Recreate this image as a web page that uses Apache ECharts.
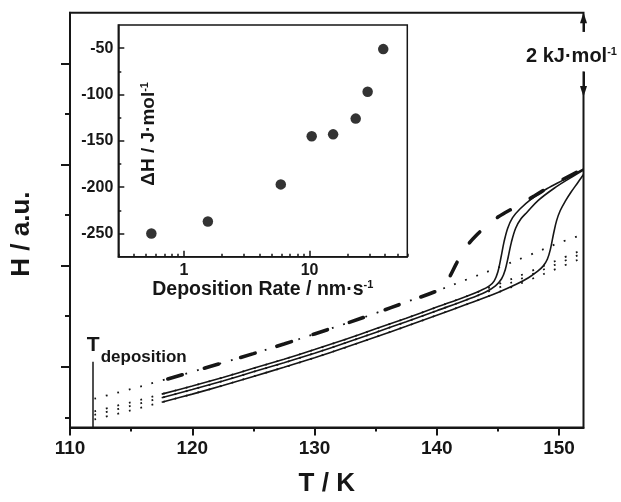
<!DOCTYPE html>
<html><head><meta charset="utf-8">
<script src="https://cdn.jsdelivr.net/npm/echarts@6/dist/echarts.min.js"></script>
<style>html,body{margin:0;padding:0;background:#fff}#c{width:621px;height:502px}</style>
</head><body><div id="c"></div>
<script>
// ---------- data ----------
const glassT = [112, 115, 117.5, 120, 122.5, 125, 127.5, 130, 132.5, 135, 137.5, 140, 142.5, 145, 147.5, 150, 152];
const glassD = [0.37, 0.56, 0.73, 0.90, 1.08, 1.26, 1.45, 1.65, 1.85, 2.06, 2.28, 2.50, 2.73, 2.96, 3.20, 3.45, 3.62];
const glassA = [0.12, 0.30, 0.46, 0.62, 0.79, 0.97, 1.15, 1.34, 1.54, 1.75, 1.96, 2.18, 2.40, 2.63, 2.87, 3.12, 3.32];
const glassB = [0.05, 0.23, 0.39, 0.55, 0.72, 0.90, 1.08, 1.27, 1.47, 1.68, 1.89, 2.11, 2.33, 2.56, 2.80, 3.05, 3.25];
const glassC = [-0.04, 0.14, 0.30, 0.46, 0.63, 0.81, 0.99, 1.18, 1.38, 1.59, 1.80, 2.02, 2.24, 2.47, 2.71, 2.96, 3.16];

const curveDT = [118, 120, 122.5, 125, 127.5, 130, 132.5, 135, 137.5, 140, 140.6, 141.1, 141.6, 142.1, 142.6, 143.2, 144, 145, 146.5, 148, 149.5, 151, 152];
const curveDV = [0.76, 0.90, 1.08, 1.26, 1.45, 1.65, 1.85, 2.06, 2.28, 2.50, 2.60, 2.80, 3.04, 3.26, 3.43, 3.59, 3.77, 3.96, 4.17, 4.38, 4.60, 4.79, 4.91];

const curveAT = [117.5, 120, 122.5, 125, 127.5, 130, 132.5, 135, 137.5, 140, 142.5, 143.6, 144.3, 144.7, 145.0, 145.25, 145.5, 145.8, 146.2, 146.8, 147.7, 149, 150.4, 152];
const curveAV = [0.46, 0.62, 0.79, 0.97, 1.15, 1.34, 1.54, 1.75, 1.96, 2.18, 2.40, 2.51, 2.60, 2.70, 2.88, 3.16, 3.47, 3.74, 3.95, 4.12, 4.31, 4.52, 4.70, 4.91];

const curveBT = [117.5, 120, 122.5, 125, 127.5, 130, 132.5, 135, 137.5, 140, 142.5, 144, 144.8, 145.3, 145.6, 145.85, 146.1, 146.45, 146.9, 147.4, 148.3, 149.6, 150.9, 152];
const curveBV = [0.39, 0.55, 0.72, 0.90, 1.08, 1.27, 1.47, 1.68, 1.89, 2.11, 2.33, 2.48, 2.60, 2.74, 2.92, 3.18, 3.46, 3.74, 3.93, 4.06, 4.29, 4.53, 4.73, 4.89];

const curveCT = [117.5, 120, 122.5, 125, 127.5, 130, 132.5, 135, 137.5, 140, 142.5, 145, 146.5, 147.5, 148.2, 148.7, 149.05, 149.3, 149.55, 149.8, 150.1, 150.5, 151, 151.5, 152];
const curveCV = [0.30, 0.46, 0.63, 0.81, 0.99, 1.18, 1.38, 1.59, 1.80, 2.02, 2.24, 2.47, 2.63, 2.76, 2.88, 2.99, 3.13, 3.33, 3.63, 3.89, 4.09, 4.27, 4.46, 4.63, 4.80];

// inset: deposition rate (nm/s) vs ΔH (J/mol)
const rates  = [0.55, 1.55, 5.9, 10.4, 15.4, 23.3, 29, 38.6];
const deltaH = [-250, -237, -197, -145, -143, -126, -97, -51];

// ticks
const xTicksMain = [110, 120, 130, 140, 150];
const xMinorMain = [115, 125, 135, 145];
const yTicksMain = [1, 3, 5, 7];
const yMinorMain = [0, 2, 4, 6];
const insetXTicks = [1, 10];
const insetXMinor = [0.3, 0.4, 0.5, 0.6, 0.7, 0.8, 0.9, 2, 3, 4, 5, 6, 7, 8, 9, 20, 30, 40, 50, 60];
const insetYTicks = [-250, -200, -150, -100, -50];
const insetYMinor = [-225, -175, -125, -75];

// annotations (data units)
const tDeposition = 111.9, tDepTopV = 1.1;
const arrowTopV = 7.9, arrowGapTopV = 7.62, arrowGapBottomV = 6.84, arrowTipV = 6.44, scaleLabelV = 7.14;

// ---------- chart ----------
const C = '#161616';
const FF = '"Liberation Sans", Arial, Helvetica, sans-serif';
const zip = (a, b) => a.map((x, i) => [x, b[i]]);

const chart = echarts.init(document.getElementById('c'), null, {renderer: 'canvas'});

const dotted = {color: C, width: 1.8, type: [1.8, 10]};
const solid = {color: C, width: 1.6, type: 'solid'};

function lineSeries(data, style, extra) {
  return Object.assign({
    type: 'line', xAxisIndex: 0, yAxisIndex: 0, data: data, showSymbol: false, symbol: 'none',
    smooth: 0.35, lineStyle: style, silent: true, animation: false
  }, extra || {});
}

const option = {
  animation: false,
  backgroundColor: '#fff',
  textStyle: {fontFamily: FF, color: C},
  grid: [
    {left: 70, top: 12.7, width: 513.5, height: 414.8, show: true, borderColor: C, borderWidth: 2, backgroundColor: 'transparent'},
    {left: 118.3, top: 25, width: 289, height: 231.7, show: true, borderColor: C, borderWidth: 1.5, backgroundColor: '#fff'}
  ],
  xAxis: [
    {gridIndex: 0, type: 'value', min: 110, max: 152, position: 'bottom',
     axisLine: {show: true, onZero: false, lineStyle: {color: C, width: 2}},
     axisTick: {show: true, customValues: xTicksMain, length: 8, lineStyle: {color: C, width: 2}},
     axisLabel: {customValues: xTicksMain, fontSize: 19, fontWeight: 'bold', color: C, fontFamily: FF, margin: 12},
     splitLine: {show: false},
     name: 'T / K', nameLocation: 'middle', nameGap: 43,
     nameTextStyle: {fontSize: 26, fontWeight: 'bold', color: C, fontFamily: FF}},
    {gridIndex: 0, type: 'value', min: 110, max: 152, position: 'bottom',
     axisLine: {show: false, onZero: false},
     axisTick: {show: true, customValues: xMinorMain, length: 4, lineStyle: {color: C, width: 2}},
     axisLabel: {show: false}, splitLine: {show: false}},
    {gridIndex: 1, type: 'log', logBase: 10, min: 0.3, max: 60, position: 'bottom',
     axisLine: {show: true, onZero: false, lineStyle: {color: C, width: 1.5}},
     axisTick: {show: true, inside: true, customValues: insetXTicks, length: 6, lineStyle: {color: C, width: 1.5}},
     axisLabel: {customValues: insetXTicks, fontSize: 16, fontWeight: 'bold', color: C, fontFamily: FF, margin: 6},
     splitLine: {show: false},
     name: '{a|Deposition Rate / nm·s}{b|-1}', nameLocation: 'middle', nameGap: 23,
     nameTextStyle: {rich: {
       a: {fontSize: 19.5, fontWeight: 'bold', color: C, fontFamily: FF},
       b: {fontSize: 11, fontWeight: 'bold', color: C, fontFamily: FF, verticalAlign: 'top'}}}},
    {gridIndex: 1, type: 'log', logBase: 10, min: 0.3, max: 60, position: 'bottom',
     axisLine: {show: false, onZero: false},
     axisTick: {show: true, inside: true, customValues: insetXMinor, length: 3, lineStyle: {color: C, width: 1.5}},
     axisLabel: {show: false}, splitLine: {show: false}}
  ],
  yAxis: [
    {gridIndex: 0, type: 'value', min: -0.2, max: 8, position: 'left',
     axisLine: {show: true, onZero: false, lineStyle: {color: C, width: 2}},
     axisTick: {show: true, customValues: yTicksMain, length: 9, lineStyle: {color: C, width: 2}},
     axisLabel: {show: false}, splitLine: {show: false},
     name: 'H / a.u.', nameLocation: 'middle', nameGap: 35,
     nameTextStyle: {fontSize: 26, fontWeight: 'bold', color: C, fontFamily: FF, padding: [0, 28, 0, 0]}},
    {gridIndex: 0, type: 'value', min: -0.2, max: 8, position: 'left',
     axisLine: {show: false, onZero: false},
     axisTick: {show: true, customValues: yMinorMain, length: 5, lineStyle: {color: C, width: 2}},
     axisLabel: {show: false}, splitLine: {show: false}},
    {gridIndex: 1, type: 'value', min: -275, max: -25, position: 'left',
     axisLine: {show: true, onZero: false, lineStyle: {color: C, width: 1.5}},
     axisTick: {show: true, inside: true, customValues: insetYTicks, length: 6, lineStyle: {color: C, width: 1.5}},
     axisLabel: {customValues: insetYTicks, fontSize: 16, fontWeight: 'bold', color: C, fontFamily: FF, margin: 5},
     splitLine: {show: false},
     name: '{a|ΔH / J·mol}{b|-1}', nameLocation: 'middle', nameGap: -40,
     nameTextStyle: {padding: [0, 0, 0, 14], rich: {
       a: {fontSize: 19, fontWeight: 'bold', color: C, fontFamily: FF},
       b: {fontSize: 11, fontWeight: 'bold', color: C, fontFamily: FF, verticalAlign: 'top'}}}},
    {gridIndex: 1, type: 'value', min: -275, max: -25, position: 'left',
     axisLine: {show: false, onZero: false},
     axisTick: {show: true, inside: true, customValues: insetYMinor, length: 3, lineStyle: {color: C, width: 1.5}},
     axisLabel: {show: false}, splitLine: {show: false}}
  ],
  series: [
    lineSeries(zip(glassT, glassD), dotted),
    lineSeries(zip(glassT, glassA), dotted, {
      markLine: {silent: true, symbol: ['none', 'none'], label: {show: false},
        lineStyle: {color: C, width: 1.5, type: 'solid'},
        data: [[{coord: [tDeposition, -0.2]}, {coord: [tDeposition, tDepTopV]}]]}
    }),
    lineSeries(zip(glassT, glassB), dotted),
    lineSeries(zip(glassT, glassC), dotted),
    lineSeries(zip(curveDT, curveDV), {color: C, width: 3.6, type: [15, 23], cap: 'round'}),
    lineSeries(zip(curveAT, curveAV), solid, {
      markLine: {silent: true, label: {show: false}, symbol: ['none', 'triangle'], symbolSize: [7, 11],
        lineStyle: {color: C, width: 2, type: 'solid'},
        data: [
          [{coord: [152, arrowGapTopV]}, {coord: [152, arrowTopV]}],
          [{coord: [152, arrowGapBottomV]}, {coord: [152, arrowTipV]}]
        ]}
    }),
    lineSeries(zip(curveBT, curveBV), solid),
    lineSeries(zip(curveCT, curveCV), solid),
    {type: 'scatter', xAxisIndex: 2, yAxisIndex: 2, data: zip(rates, deltaH),
     symbol: 'circle', symbolSize: 10.5, itemStyle: {color: '#000'}, silent: true, animation: false}
  ]
};
chart.setOption(option);

const P = v => chart.convertToPixel({xAxisIndex: 0, yAxisIndex: 0}, v);
const gTop = P([152, arrowGapTopV]), gBot = P([152, arrowGapBottomV]);
const sMid = P([152, scaleLabelV]);
const dep = P([tDeposition, tDepTopV]);

chart.setOption({
  graphic: [
    {type: 'rect', z: 100, silent: true,
     shape: {x: gTop[0] - 4, y: gTop[1], width: 8, height: gBot[1] - gTop[1]},
     style: {fill: '#fff'}},
    {type: 'text', z: 101, silent: true,
     style: {text: '{a|2 kJ·mol}{b|-1}', x: sMid[0] - 12, y: sMid[1], align: 'center', verticalAlign: 'middle',
       rich: {
         a: {fontSize: 20, fontWeight: 'bold', fill: C, fontFamily: FF},
         b: {fontSize: 11, fontWeight: 'bold', fill: C, fontFamily: FF, verticalAlign: 'top'}}}},
    {type: 'text', z: 101, silent: true,
     style: {text: 'T', x: dep[0], y: dep[1] - 6, align: 'center', verticalAlign: 'bottom',
       fontSize: 21, fontWeight: 'bold', fill: C, fontFamily: FF}},
    {type: 'text', z: 101, silent: true,
     style: {text: 'deposition', x: dep[0] + 7.5, y: dep[1] + 4, align: 'left', verticalAlign: 'bottom',
       fontSize: 17, fontWeight: 'bold', fill: C, fontFamily: FF}}
  ]
});
</script>
</body></html>
